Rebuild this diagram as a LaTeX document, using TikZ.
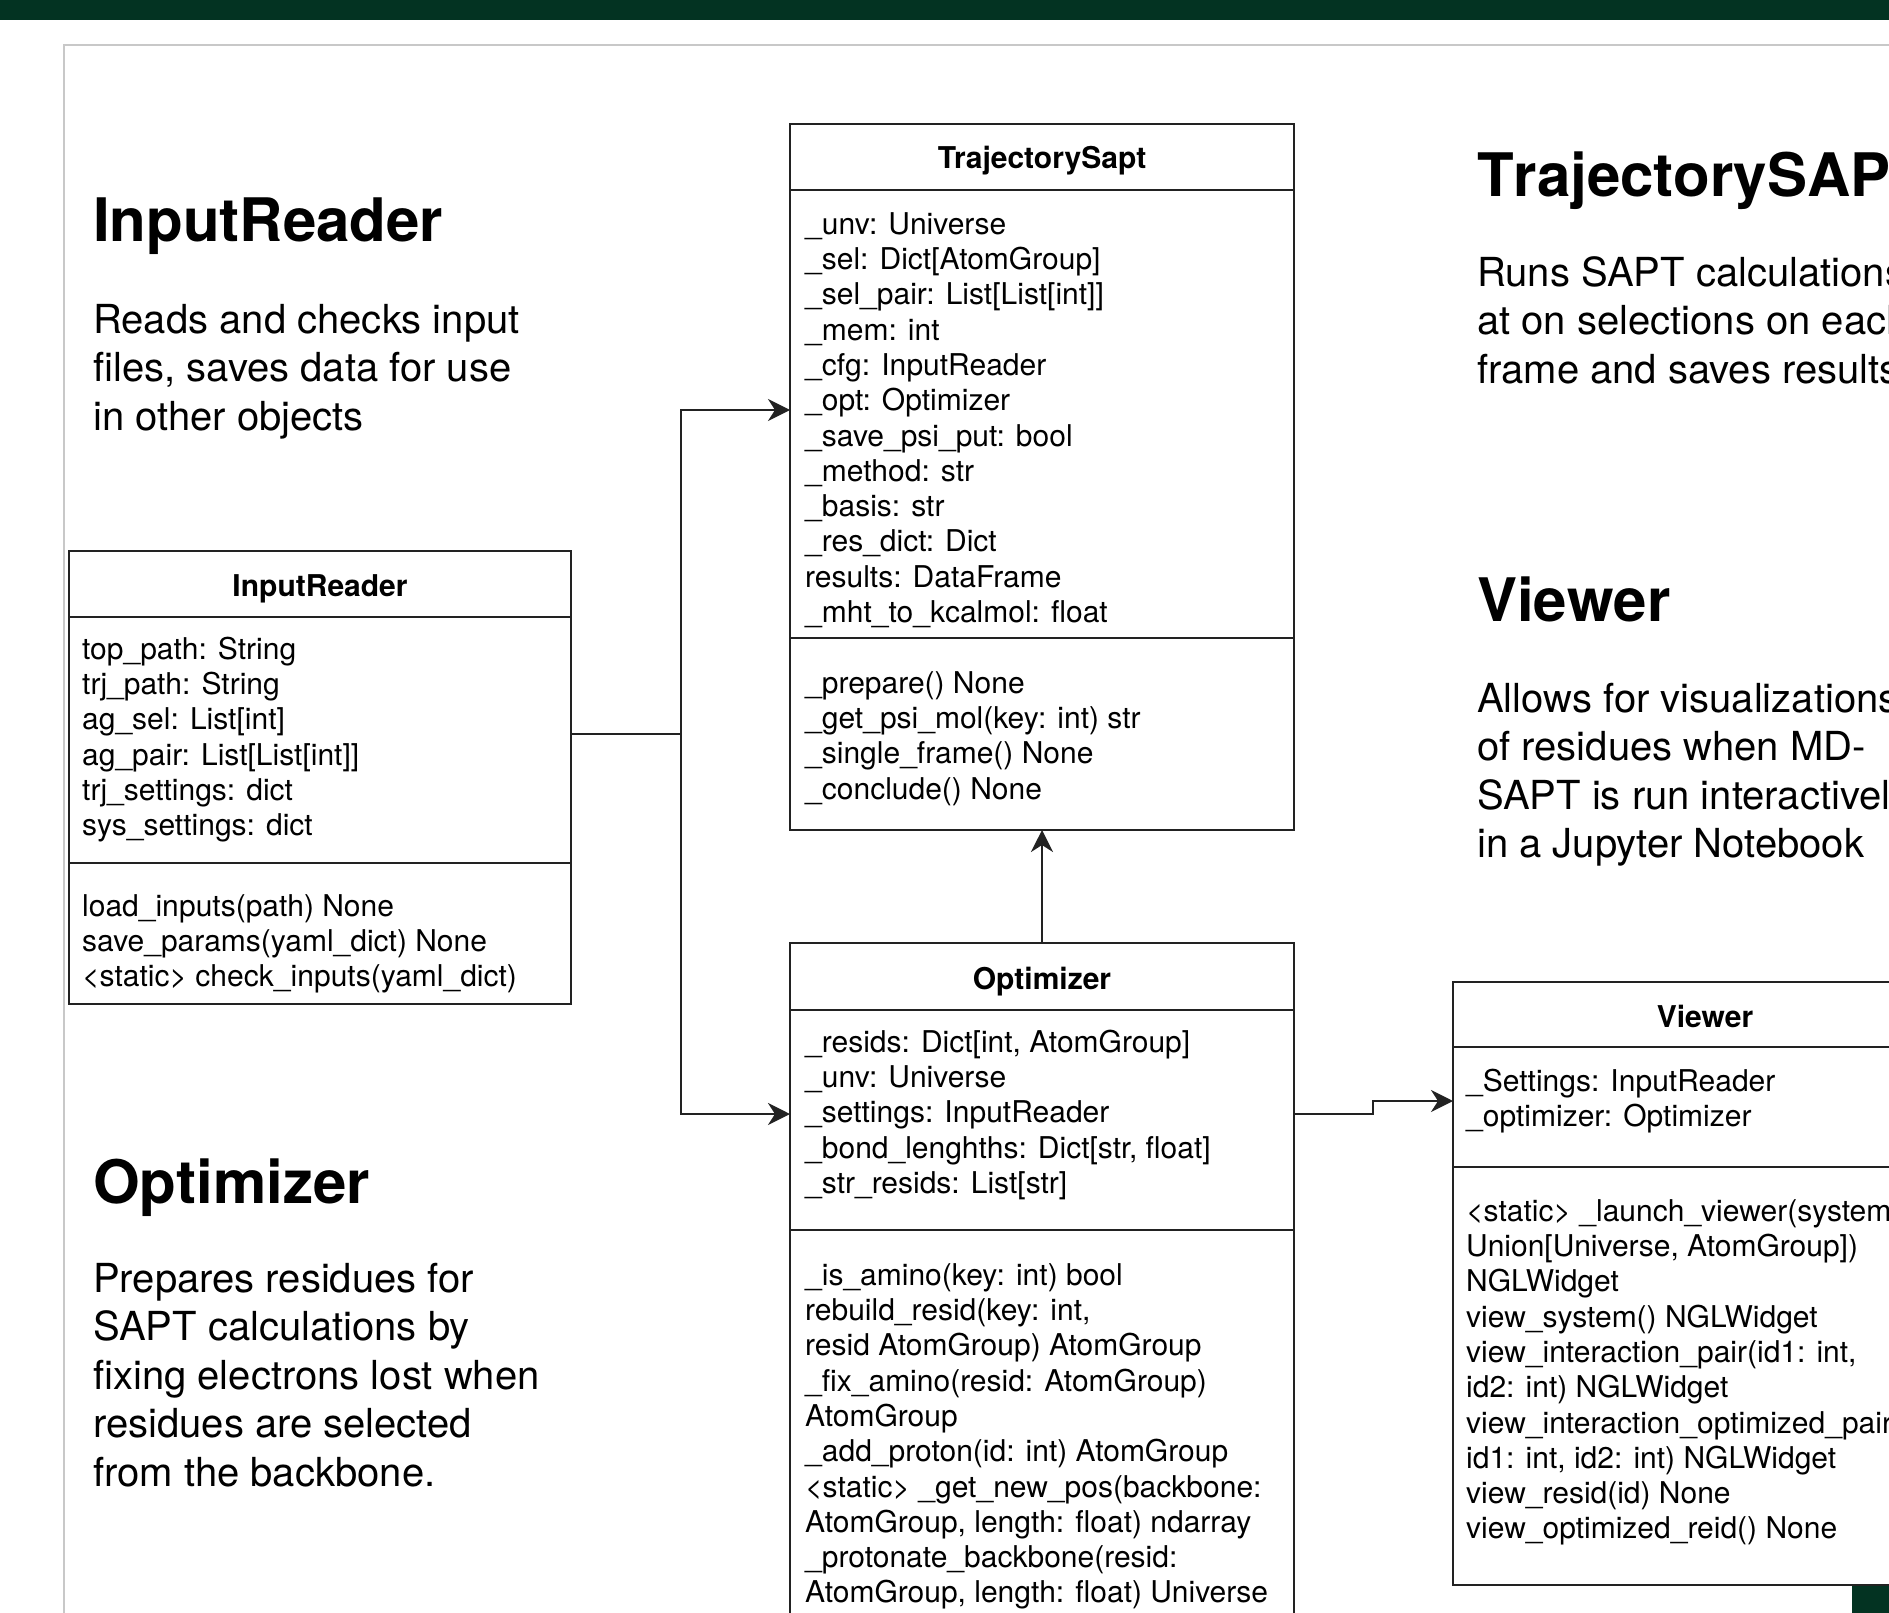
\documentclass[tikz,border=0pt]{standalone}
\usepackage{fontspec}
\setmainfont{TeX Gyre Heros}
\usetikzlibrary{arrows.meta}
\definecolor{bargreen}{RGB}{3,51,34}
\definecolor{framegray}{RGB}{200,200,200}
\definecolor{linec}{RGB}{34,34,34}
\begin{document}
\begin{tikzpicture}[x=1pt,y=-1pt,
  classbox/.style={draw=linec, line width=2.5pt, fill=white, anchor=north west, inner sep=0pt, outer sep=0pt},
  divider/.style={draw=linec, line width=2.5pt},
  boxtext/.style={anchor=north west, inner sep=0pt, align=left, font=\fontsize{30}{35.3}\selectfont},
  titletext/.style={anchor=base, inner sep=0pt, font=\fontsize{30}{36}\selectfont\bfseries},
  heading/.style={anchor=base west, inner sep=0pt, font=\fontsize{60}{72}\selectfont\bfseries\addfontfeatures{Kerning=Off}},
  desc/.style={anchor=north west, inner sep=0pt, align=left, font=\fontsize{40}{48.5}\selectfont},
  conn/.style={draw=linec, line width=2.5pt},
  arr/.style={conn, -{Stealth[length=22pt,width=22pt,inset=7pt]}}]
\useasboundingbox (0,0) rectangle (1889,1613);
\clip (0,0) rectangle (1889,1613);
\fill[white] (0,0) rectangle (1889,1613);
\fill[bargreen] (0,0) rectangle (1889,20);
\draw[framegray, line width=2pt] (64,1625) -- (64,45) -- (1900,45);
\fill[bargreen] (1852,1534) rectangle (1889,1613);

% headings and descriptions
\node[heading] (hIR) at (93,242) {InputReader};
\node[desc] (dIR) at (93,299) {\rule{0pt}{34pt}Reads and checks input\\files, saves data for use\\in other objects};
\node[heading] (hOP) at (93,1203) {Optimizer};
\node[desc] (dOP) at (93,1258) {\rule{0pt}{34pt}Prepares residues for\\SAPT calculations by\\fixing electrons lost when\\residues are selected\\from the backbone.};
\node[heading] (hTS) at (1477,197) {TrajectorySAPT};
\node[desc] (dTS) at (1477,252) {\rule{0pt}{34pt}Runs SAPT calculations\\at on selections on each\\frame and saves results};
\node[heading] (hVW) at (1477,621) {Viewer};
\node[desc] (dVW) at (1477,678) {\rule{0pt}{34pt}Allows for visualizations\\of residues when MD-\\SAPT is run interactively\\in a Jupyter Notebook};

% InputReader class
\node[classbox, minimum width=502pt, minimum height=453pt] (ir) at (69,551) {};
\draw[divider] ([yshift=-66pt]ir.north west) -- ([yshift=-66pt]ir.north east);
\draw[divider] ([yshift=-312pt]ir.north west) -- ([yshift=-312pt]ir.north east);
\node[titletext] (irT) at (320,596) {InputReader};
\node[boxtext] (irA) at (82,633) {\rule{0pt}{26pt}top\_path: String\\trj\_path: String\\ag\_sel: List[int]\\ag\_pair: List[List[int]]\\trj\_settings: dict\\sys\_settings: dict};
\node[boxtext] (irM) at (82,890) {\rule{0pt}{26pt}load\_inputs(path) None\\save\_params(yaml\_dict) None\\<static> check\_inputs(yaml\_dict)};

% TrajectorySapt class
\node[classbox, minimum width=504pt, minimum height=706pt] (ts) at (790,124) {};
\draw[divider] ([yshift=-66pt]ts.north west) -- ([yshift=-66pt]ts.north east);
\draw[divider] ([yshift=-514pt]ts.north west) -- ([yshift=-514pt]ts.north east);
\node[titletext] (tsT) at (1042,169) {TrajectorySapt};
\node[boxtext] (tsA) at (805,208) {\rule{0pt}{26pt}\_unv: Universe\\\_sel: Dict[AtomGroup]\\\_sel\_pair: List[List[int]]\\\_mem: int\\\_cfg: InputReader\\\_opt: Optimizer\\\_save\_psi\_put: bool\\\_method: str\\\_basis: str\\\_res\_dict: Dict\\results: DataFrame\\\_mht\_to\_kcalmol: float};
\node[boxtext] (tsM) at (805,667) {\rule{0pt}{26pt}\_prepare() None\\\_get\_psi\_mol(key: int) str\\\_single\_frame() None\\\_conclude() None};

% Optimizer class
\node[classbox, minimum width=504pt, minimum height=720pt] (op) at (790,943) {};
\draw[divider] ([yshift=-67pt]op.north west) -- ([yshift=-67pt]op.north east);
\draw[divider] ([yshift=-287pt]op.north west) -- ([yshift=-287pt]op.north east);
\node[titletext] (opT) at (1042,989) {Optimizer};
\node[boxtext] (opA) at (805,1026) {\rule{0pt}{26pt}\_resids: Dict[int, AtomGroup]\\\_unv: Universe\\\_settings: InputReader\\\_bond\_lenghths: Dict[str, float]\\\_str\_resids: List[str]};
\node[boxtext] (opM) at (805,1259) {\rule{0pt}{26pt}\_is\_amino(key: int) bool\\rebuild\_resid(key: int,\\resid AtomGroup) AtomGroup\\\_fix\_amino(resid: AtomGroup)\\AtomGroup\\\_add\_proton(id: int) AtomGroup\\<static> \_get\_new\_pos(backbone:\\AtomGroup, length: float) ndarray\\\_protonate\_backbone(resid:\\AtomGroup, length: float) Universe};

% Viewer class
\node[classbox, minimum width=504pt, minimum height=603pt] (vw) at (1453,982) {};
\draw[divider] ([yshift=-65pt]vw.north west) -- ([yshift=-65pt]vw.north east);
\draw[divider] ([yshift=-185pt]vw.north west) -- ([yshift=-185pt]vw.north east);
\node[titletext] (vwT) at (1705,1027) {Viewer};
\node[boxtext] (vwA) at (1466,1065) {\rule{0pt}{26pt}\_Settings: InputReader\\\_optimizer: Optimizer};
\node[boxtext] (vwM) at (1466,1195) {\rule{0pt}{26pt}<static> \_launch\_viewer(system:\\Union[Universe, AtomGroup])\\NGLWidget\\view\_system() NGLWidget\\view\_interaction\_pair(id1: int,\\id2: int) NGLWidget\\view\_interaction\_optimized\_pair(\\id1: int, id2: int) NGLWidget\\view\_resid(id) None\\view\_optimized\_reid() None};

% connectors
\coordinate (irout) at ([yshift=43.5pt]ir.east);
\coordinate (tsin) at ([yshift=67pt]ts.west);
\coordinate (opin) at ([yshift=-171pt]op.north west);
\coordinate (opout) at ([yshift=-171pt]op.north east);
\coordinate (vwin) at ([yshift=-119pt]vw.north west);
\draw[arr] (irout) -- ++(110,0) |- (tsin);
\draw[arr] (irout) -- ++(110,0) |- (opin);
\draw[arr] (op.north) -- (ts.south);
\draw[arr] (opout) -- ++(79,0) |- (vwin);
\end{tikzpicture}
\end{document}
